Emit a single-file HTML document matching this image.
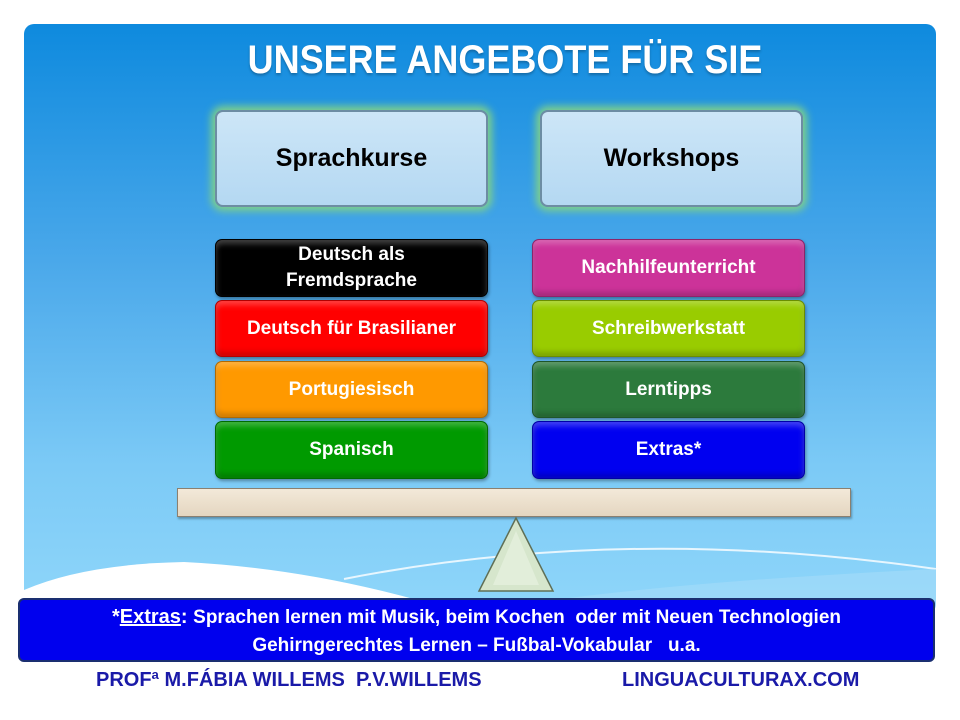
<!DOCTYPE html>
<html><head><meta charset="utf-8"><style>
*{margin:0;padding:0;box-sizing:border-box}
body{width:960px;height:720px;background:#fff;position:relative;overflow:hidden;font-family:"Liberation Sans",sans-serif}
.panel{position:absolute;left:24px;top:24px;width:912px;height:590px;border-radius:10px;background:linear-gradient(#0e8ade 0%,#4aa8ea 40%,#7ccaf6 75%,#8fd6fa 100%);overflow:hidden}
.abs{position:absolute}
.title{left:25px;width:960px;top:38px;text-align:center;color:#fff;font-weight:bold;font-size:40px;transform:scaleX(0.9);text-shadow:0 2px 3px rgba(0,0,0,.25)}
.hbox{position:absolute;height:97px;top:110px;border-radius:8px;background:linear-gradient(#cde6f7,#b4d8f2);border:2px solid #6d8da3;box-shadow:0 0 8px 4px #7fd08a;display:flex;align-items:center;justify-content:center;font-weight:bold;font-size:25px;color:#000}
.row{position:absolute;border-radius:7px;display:flex;align-items:center;justify-content:center;text-align:center;color:#fff;font-weight:bold;font-size:19px;line-height:26px;box-shadow:inset 0 4px 6px rgba(255,255,255,.25),inset 0 -4px 6px rgba(0,0,0,.2),1px 2px 3px rgba(0,0,0,.35);border:1px solid rgba(0,0,0,.3)}
.l{left:215px;width:273px}.r{left:532px;width:273px}
</style></head><body>
<div class="panel">
<svg class="abs" style="left:0;top:0" width="912" height="590">
<path d="M0 566 Q 60 540 160 538 Q 300 545 440 590 L0 590 Z" fill="#fff"/>
<path d="M320 555 Q 600 500 912 545" stroke="#fff" stroke-width="2" fill="none" opacity=".8"/>
<path d="M440 590 Q 600 560 912 545 L912 590 Z" fill="#a5dcf8" opacity=".6"/>
</svg>
</div>
<div class="abs title">UNSERE ANGEBOTE FÜR SIE</div>
<div class="hbox" style="left:215px;width:273px">Sprachkurse</div>
<div class="hbox" style="left:540px;width:263px">Workshops</div>
<div class="row l" style="top:239px;height:58px;background:#000">Deutsch als<br>Fremdsprache</div>
<div class="row l" style="top:300px;height:57px;background:#f00">Deutsch für Brasilianer</div>
<div class="row l" style="top:361px;height:57px;background:#f90">Portugiesisch</div>
<div class="row l" style="top:421px;height:58px;background:#009a00">Spanisch</div>
<div class="row r" style="top:239px;height:58px;background:#cc3399">Nachhilfeunterricht</div>
<div class="row r" style="top:300px;height:57px;background:#99cc00">Schreibwerkstatt</div>
<div class="row r" style="top:361px;height:57px;background:#2c7a3c">Lerntipps</div>
<div class="row r" style="top:421px;height:58px;background:#0000f0">Extras*</div>
<div class="abs" style="left:177px;top:488px;width:674px;height:29px;background:linear-gradient(#f3e9d9,#e4d6c0);border:1px solid #8a8070;box-shadow:1px 2px 2px rgba(0,0,0,.3)"></div>
<svg class="abs" style="left:475px;top:515px" width="85" height="80">
<polygon points="41,3 4,76 78,76" fill="#d6e6cc" stroke="#5f6f56" stroke-width="1.5"/>
<polygon points="41,16 18,70 64,70" fill="#e2eeda"/>
</svg>
<div class="abs" style="left:18px;top:598px;width:917px;height:64px;background:#0000ee;border:2px solid #1a2f70;border-radius:6px;color:#fff;font-weight:bold;font-size:20px;text-align:center;line-height:28px;padding-top:3px">
<div>*<u>Extras</u>: <span style="font-size:19px">Sprachen lernen mit Musik, beim Kochen&nbsp; oder mit Neuen Technologien</span></div>
<div style="font-size:19px">Gehirngerechtes Lernen – Fußbal-Vokabular&nbsp;&nbsp; u.a.</div>
</div>
<div class="abs" style="left:96px;top:669px;color:#1a1aa8;font-weight:bold;font-size:20px">PROFª M.FÁBIA WILLEMS&nbsp; P.V.WILLEMS</div>
<div class="abs" style="left:622px;top:669px;color:#1a1aa8;font-weight:bold;font-size:20px">LINGUACULTURAX.COM</div>
</body></html>
